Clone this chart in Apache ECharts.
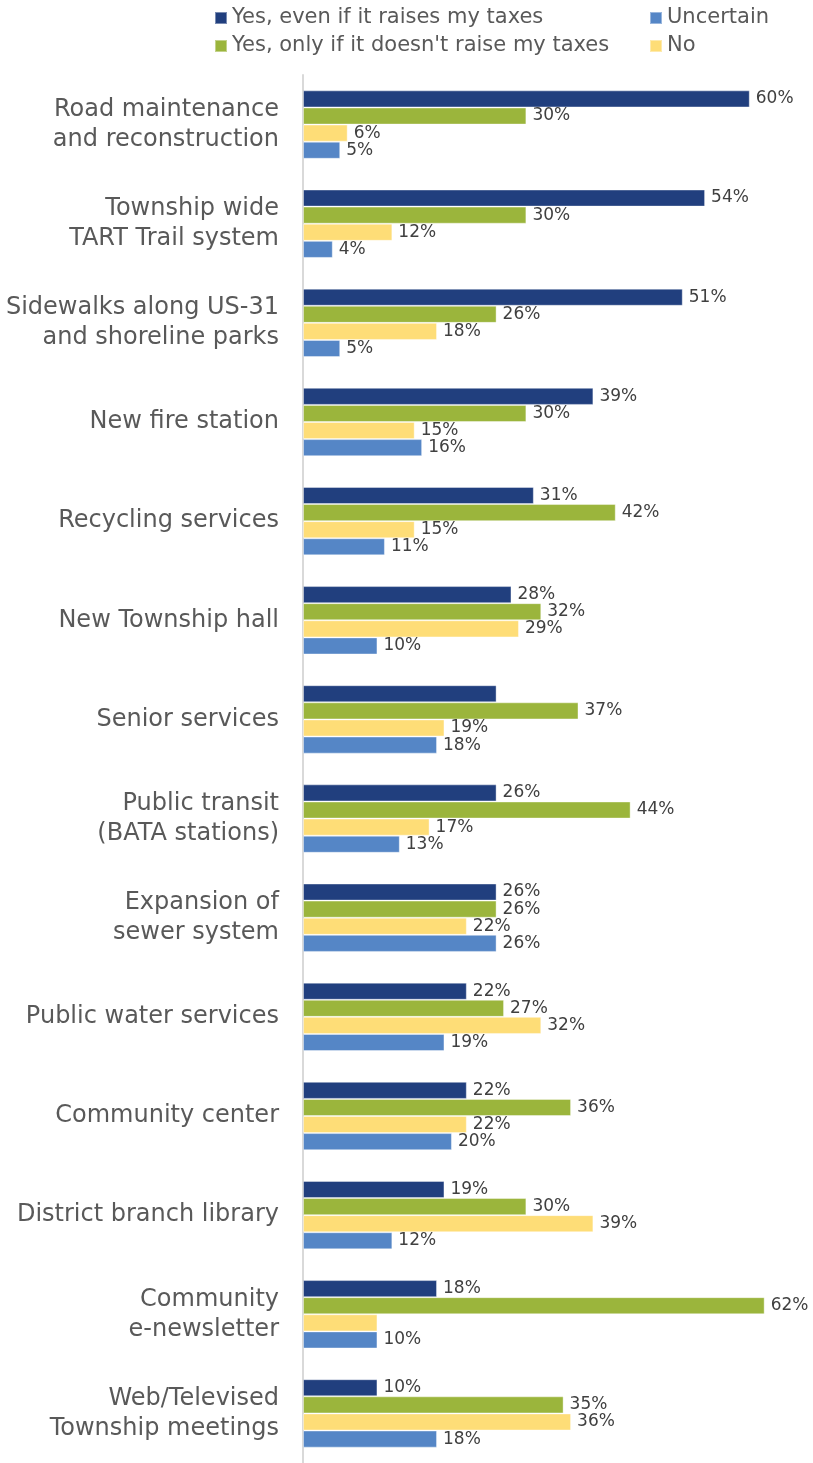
<!DOCTYPE html>
<html><head><meta charset="utf-8">
<script src="https://cdn.jsdelivr.net/npm/echarts@6/dist/echarts.min.js"></script>
<style>html,body{margin:0;padding:0;background:#fff}#c{width:813px;height:1463px}</style>
</head><body><div id="c"></div>
<script>
const categories = [
  'Road maintenance\nand reconstruction',
  'Township wide\nTART Trail system',
  'Sidewalks along US-31\nand shoreline parks',
  'New fire station',
  'Recycling services',
  'New Township hall',
  'Senior services',
  'Public transit\n(BATA stations)',
  'Expansion of\nsewer system',
  'Public water services',
  'Community center',
  'District branch library',
  'Community\ne-newsletter',
  'Web/Televised\nTownship meetings'
];
const seriesNames = ['Yes, even if it raises my taxes', "Yes, only if it doesn't raise my taxes", 'No', 'Uncertain'];
const yesEven   = [60, 54, 51, 39, 31, 28, 26, 26, 26, 22, 22, 19, 18, 10];
const yesOnly   = [30, 30, 26, 30, 42, 32, 37, 44, 26, 27, 36, 30, 62, 35];
const noVals    = [6, 12, 18, 15, 15, 29, 19, 17, 22, 32, 22, 39, 10, 36];
const uncertain = [5, 4, 5, 16, 11, 10, 18, 13, 26, 19, 20, 12, 10, 18];
// labels not shown in the original (series index, category index)
const hiddenLabels = [[0, 6], [2, 12]];

const colors = ['#213f7e', '#9bb53c', '#fedd77', '#5586c6'];
const valuesList = [yesEven, yesOnly, noVals, uncertain];

const font = 'DejaVu Sans';
const series = valuesList.map((vals, si) => ({
  name: seriesNames[si],
  type: 'bar',
  barGap: '0%',
  barCategoryGap: '31%',
  itemStyle: { color: colors[si], borderColor: 'rgba(255,255,255,0.4)', borderWidth: 1 },
  label: { show: true, position: 'right', distance: 6, formatter: '{c}%', color: '#404040', fontFamily: font, fontSize: 17 },
  data: vals.map((v, ci) => {
    const d = { value: v };
    if (hiddenLabels.some(h => h[0] === si && h[1] === ci)) d.label = { show: false };
    return d;
  })
}));

const legendText = { fontFamily: font, fontSize: 21, color: '#595959', lineHeight: 22 };
const chart = echarts.init(document.getElementById('c'));
chart.setOption({
  animation: false,
  legend: [
    { data: [seriesNames[0], seriesNames[1]], orient: 'vertical', left: 209, top: 2, itemWidth: 12, itemHeight: 12, itemGap: 6, icon: 'rect', textStyle: legendText },
    { data: [seriesNames[3], seriesNames[2]], orient: 'vertical', left: 644, top: 2, itemWidth: 12, itemHeight: 12, itemGap: 6, icon: 'rect', textStyle: legendText }
  ],
  grid: { left: 303, right: 26, top: 75, height: 1397, containLabel: false },
  xAxis: { type: 'value', min: 0, max: 65, show: false },
  yAxis: {
    type: 'category', data: categories, inverse: true,
    axisLine: { show: true, lineStyle: { color: '#d9d9d9', width: 2 } },
    axisTick: { show: false },
    axisLabel: { margin: 24, fontFamily: font, fontSize: 24, color: '#595959', lineHeight: 30, align: 'right' }
  },
  series: series
});
</script></body></html>
